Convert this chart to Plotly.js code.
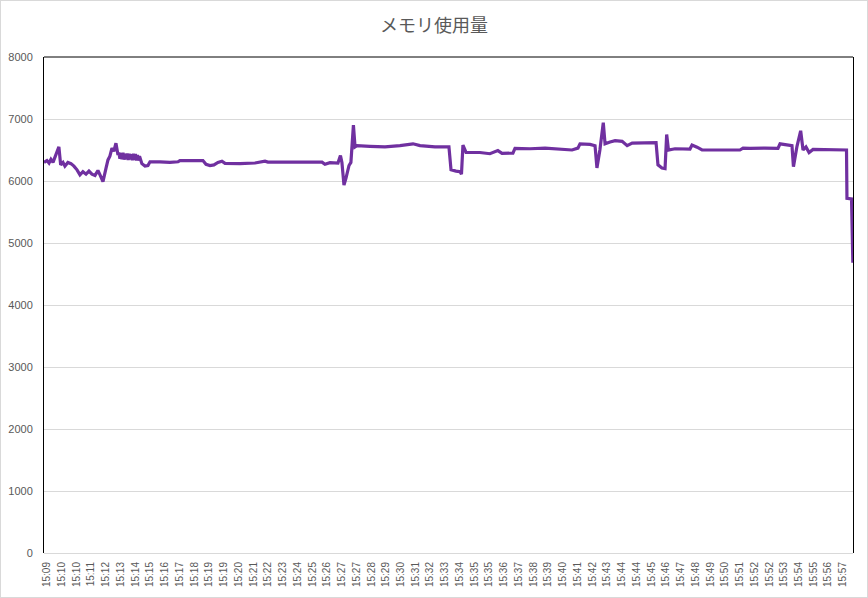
<!DOCTYPE html>
<html>
<head>
<meta charset="utf-8">
<script src="https://cdn.plot.ly/plotly-3.0.1.min.js"></script>
<style>
  html, body { margin: 0; padding: 0; background: #ffffff; }
  #chart { width: 868px; height: 598px; box-sizing: border-box; border: 1px solid #d9d9d9; }
</style>
</head>
<body>
<div id="chart"></div>
<script>
// Category tick labels (one per labelled category position)
const tickLabels = [
  "15:09","15:10","15:10","15:11","15:12","15:13","15:14","15:15","15:16","15:17",
  "15:18","15:19","15:19","15:20","15:21","15:22","15:23","15:24","15:25","15:26",
  "15:27","15:27","15:28","15:29","15:30","15:31","15:32","15:33","15:34","15:35",
  "15:35","15:36","15:37","15:38","15:39","15:40","15:41","15:42","15:43","15:44",
  "15:44","15:45","15:46","15:47","15:48","15:49","15:50","15:51","15:52","15:52",
  "15:53","15:54","15:55","15:56","15:57"
];

// Sample positions, in units of labelled category index
const samplePos = [
  -0.2, 0, 0.14, 0.27, 0.41, 0.54, 0.68, 0.81, 0.93, 1.09,
  1.22, 1.42, 1.63, 1.83, 2.04, 2.24, 2.44, 2.65, 2.85, 3.05,
  3.26, 3.46, 3.60, 3.80, 4.00, 4.14, 4.27, 4.41, 4.54, 4.68,
  4.82, 4.88, 4.95, 5.02, 5.09, 5.16, 5.23, 5.30, 5.37, 5.44,
  5.51, 5.58, 5.65, 5.72, 5.79, 5.86, 5.93, 6.00, 6.07, 6.14,
  6.21, 6.28, 6.44, 6.65, 6.85, 6.99, 7.67, 8.34, 8.89, 9.02,
  10.58, 10.79, 11.06, 11.33, 11.60, 11.87, 12.08, 13.09, 14.11, 14.79,
  14.99, 17.16, 18.66, 18.86, 19.20, 19.74, 19.91, 20.01, 20.15, 20.29,
  20.49, 20.62, 20.79, 20.90, 21.03, 21.91, 22.93, 23.95, 24.83, 25.31,
  26.32, 27.27, 27.41, 27.75, 28.02, 28.12, 28.22, 28.43, 29.37, 30.05,
  30.59, 30.87, 31.61, 31.75, 32.77, 33.79, 34.80, 35.62, 36.02, 36.16,
  36.84, 37.18, 37.31, 37.51, 37.74, 37.86, 38.20, 38.54, 39.02, 39.36,
  39.70, 40.58, 41.32, 41.45, 41.72, 41.93, 42.04, 42.16, 42.61, 43.62,
  43.76, 44.10, 44.44, 45.66, 47.01, 47.22, 47.69, 48.71, 49.59, 49.73,
  50.41, 50.54, 50.64, 50.88, 51.13, 51.29, 51.49, 51.70, 51.97, 53.12,
  54.24, 54.27, 54.58, 54.67
];

// Memory usage values (MB)
const memoryMB = [
  6300, 6330, 6290, 6350, 6300, 6380, 6460, 6550, 6260, 6300,
  6240, 6300, 6280, 6240, 6180, 6100, 6150, 6110, 6160, 6110,
  6090, 6170, 6100, 5990, 6200, 6340, 6400, 6530, 6480, 6610,
  6420, 6460, 6360, 6450, 6350, 6455, 6345, 6440, 6350, 6445,
  6340, 6440, 6350, 6430, 6335, 6440, 6340, 6435, 6330, 6420,
  6330, 6400, 6280, 6240, 6250, 6310, 6310, 6300, 6310, 6330,
  6330, 6270, 6250, 6260, 6300, 6320, 6285, 6280, 6290, 6320,
  6305, 6305, 6305, 6270, 6295, 6290, 6410, 6300, 5935, 6050,
  6250, 6300, 6900, 6550, 6570, 6560, 6550, 6570, 6600, 6570,
  6550, 6550, 6180, 6160, 6150, 6110, 6580, 6460, 6460, 6440,
  6490, 6445, 6450, 6525, 6520, 6530, 6515, 6500, 6530, 6600,
  6590, 6570, 6210, 6500, 6940, 6600, 6630, 6650, 6640, 6570,
  6610, 6620, 6620, 6260, 6210, 6200, 6750, 6500, 6520, 6515,
  6580, 6545, 6500, 6500, 6500, 6530, 6525, 6530, 6525, 6600,
  6580, 6570, 6230, 6560, 6810, 6500, 6550, 6460, 6510, 6500,
  6500, 5720, 5710, 4680
];

const yTicks = [0, 1000, 2000, 3000, 4000, 5000, 6000, 7000, 8000];

const tickPositions = tickLabels.map((_, i) => i);

const trace = {
  type: 'scatter',
  mode: 'lines',
  x: samplePos,
  y: memoryMB,
  line: { color: '#7030A0', width: 3.2 },
  hoverinfo: 'y'
};

const layout = {
  width: 866,
  height: 596,
  margin: { l: 43, r: 14, t: 56, b: 44, pad: 0 },
  paper_bgcolor: '#ffffff',
  plot_bgcolor: '#ffffff',
  showlegend: false,
  title: {
    text: 'メモリ使用量',
    font: { family: '"Noto Sans CJK JP", "Noto Sans", sans-serif', size: 18, color: '#595959' },
    x: 0.5, xref: 'container', xanchor: 'center',
    y: 0.958, yref: 'container', yanchor: 'middle'
  },
  xaxis: {
    range: [-0.2, 54.68],
    tickmode: 'array',
    tickvals: tickPositions,
    ticktext: tickLabels,
    tickangle: -90,
    ticks: '',
    ticklabelstandoff: 6,
    tickfont: { family: 'Liberation Sans, Arial, sans-serif', size: 10, color: '#595959' },
    showgrid: false,
    zeroline: false,
    showline: false,
    fixedrange: true
  },
  yaxis: {
    range: [0, 8000],
    tickmode: 'array',
    tickvals: yTicks,
    ticktext: yTicks.map(String),
    ticks: '',
    ticklabelstandoff: 8,
    tickfont: { family: 'Liberation Sans, Arial, sans-serif', size: 11, color: '#595959' },
    showgrid: true,
    gridcolor: '#d9d9d9',
    gridwidth: 1,
    zeroline: true,
    zerolinecolor: '#d9d9d9',
    zerolinewidth: 1,
    showline: true,
    linecolor: '#000000',
    linewidth: 1,
    mirror: true,
    fixedrange: true
  },
  shapes: [
    { type: 'line', xref: 'paper', yref: 'paper', x0: 0, x1: 1, y0: 1, y1: 1,
      line: { color: '#000000', width: 1 } }
  ]
};

Plotly.newPlot('chart', [trace], layout, { displayModeBar: false, staticPlot: true });
</script>
</body>
</html>
